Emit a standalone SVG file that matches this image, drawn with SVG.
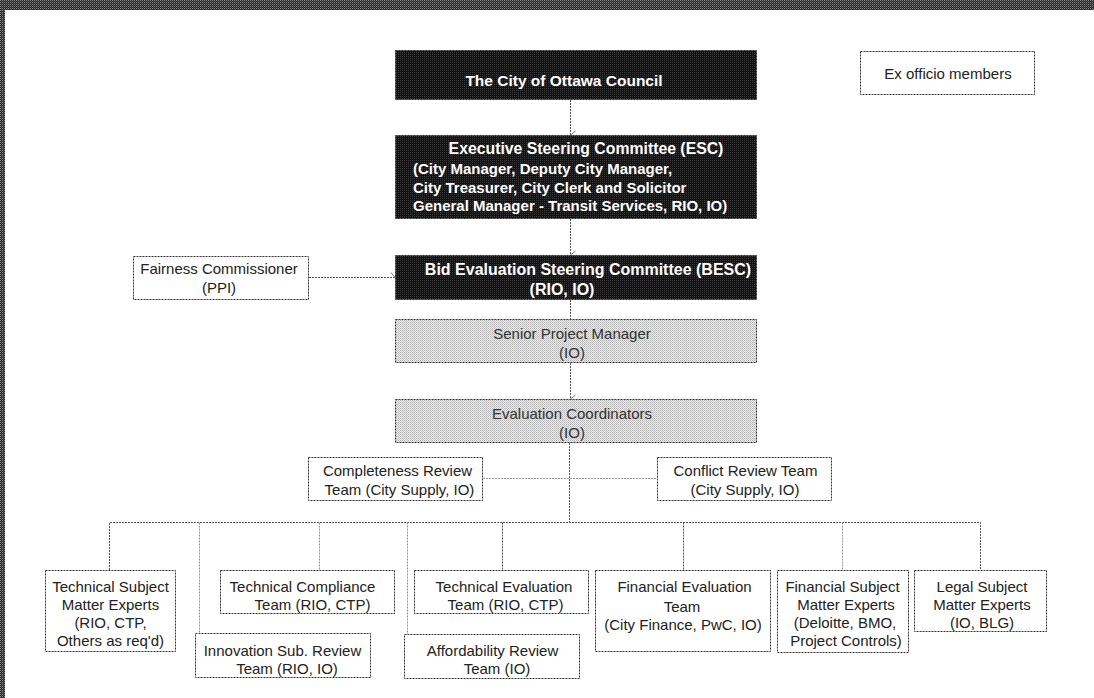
<svg xmlns="http://www.w3.org/2000/svg" width="1094" height="698" viewBox="0 0 1094 698">
<defs>
<pattern id="edge" width="2" height="2" patternUnits="userSpaceOnUse"><rect width="2" height="2" fill="#262626"/><rect width="1" height="1" fill="#8a8a8a"/><rect x="1" y="1" width="1" height="1" fill="#4a4a4a"/></pattern>
<pattern id="dark" width="2" height="2" patternUnits="userSpaceOnUse"><rect width="2" height="2" fill="#121212"/><rect width="1" height="1" fill="#3a3a3a"/></pattern>
<pattern id="light" width="2" height="2" patternUnits="userSpaceOnUse"><rect width="2" height="2" fill="#eaeaea"/><rect width="1" height="1" fill="#b4b4b4"/><rect x="1" y="1" width="1" height="1" fill="#c8c8c8"/></pattern>
<marker id="arr" markerWidth="10" markerHeight="8" refX="5" refY="7" orient="auto-start-reverse" markerUnits="userSpaceOnUse" viewBox="0 0 10 8">
<polyline points="1,2 5,7 9,2" fill="none" stroke="#777" stroke-width="1"/>
</marker>
</defs>
<style>
.bx{stroke:#333;stroke-width:1;stroke-dasharray:2,1}
.w{fill:#fff}
.dk{fill:url(#dark)}
.lt{fill:url(#light)}
.t{font-family:"Liberation Sans",Arial,sans-serif;font-size:15px;fill:#222;text-anchor:middle}
.tg{fill:#333}
.tb{font-family:"Liberation Sans",Arial,sans-serif;font-size:15px;font-weight:bold;fill:#fff}
.c{fill:none;stroke:#555;stroke-width:1;stroke-dasharray:2,1}
.cl{fill:none;stroke:#999;stroke-width:1;stroke-dasharray:2,1}
</style>
<rect width="1094" height="698" fill="#fff"/>
<rect x="0" y="0" width="1094" height="10" fill="url(#edge)"/>
<rect x="0" y="0" width="5" height="698" fill="url(#edge)"/>

<g id="connectors">
<line class="c" x1="570.5" y1="100" x2="570.5" y2="135" marker-end="url(#arr)"/>
<line class="c" x1="570.5" y1="219" x2="570.5" y2="255" marker-end="url(#arr)"/>
<line class="c" x1="309" y1="277.5" x2="395" y2="277.5" marker-end="url(#arr)"/>
<line class="c" x1="570.5" y1="300" x2="570.5" y2="319"/>
<line class="c" x1="570.5" y1="363" x2="570.5" y2="399" marker-end="url(#arr)"/>
<line class="c" x1="569.5" y1="443" x2="569.5" y2="522.5"/>
<line class="cl" x1="483" y1="478.5" x2="657" y2="478.5"/>
<polyline class="c" points="109.5,570 109.5,522.5 980.5,522.5 980.5,570"/>
<line class="cl" x1="199.5" y1="522.5" x2="199.5" y2="633"/>
<line class="cl" x1="319.5" y1="522.5" x2="319.5" y2="570"/>
<line class="cl" x1="407.5" y1="522.5" x2="407.5" y2="634"/>
<line class="c" x1="502.5" y1="522.5" x2="502.5" y2="570"/>
<line class="c" x1="683.5" y1="522.5" x2="683.5" y2="570"/>
<line class="cl" x1="842.5" y1="522.5" x2="842.5" y2="570"/>
</g>

<g id="council">
<rect class="bx dk" x="395.5" y="50.5" width="361" height="49"/>
<text class="tb" x="564" y="85.5" text-anchor="middle" style="font-size:15.5px">The City of Ottawa Council</text>
</g>

<g id="exofficio">
<rect class="bx w" x="860.5" y="51.5" width="174" height="43"/>
<text class="t" x="948" y="78.5">Ex officio members</text>
</g>

<g id="esc">
<rect class="bx dk" x="395.5" y="135.5" width="361" height="83"/>
<text class="tb" x="586" y="153.5" text-anchor="middle" style="font-size:15.8px">Executive Steering Committee (ESC)</text>
<text class="tb" x="413" y="173.5">(City Manager, Deputy City Manager,</text>
<text class="tb" x="413" y="192.5">City Treasurer, City Clerk and Solicitor</text>
<text class="tb" x="413" y="210.5">General Manager - Transit Services, RIO, IO)</text>
</g>

<g id="fairness">
<rect class="bx w" x="133.5" y="256.5" width="175" height="43"/>
<text class="t" x="219" y="274">Fairness Commissioner</text>
<text class="t" x="219" y="293">(PPI)</text>
</g>

<g id="besc">
<rect class="bx dk" x="395.5" y="255.5" width="361" height="44"/>
<text class="tb" x="588" y="275" text-anchor="middle" style="font-size:16px">Bid Evaluation Steering Committee (BESC)</text>
<text class="tb" x="562" y="295" text-anchor="middle" style="font-size:16px">(RIO, IO)</text>
</g>

<g id="spm">
<rect class="bx lt" x="395.5" y="319.5" width="361" height="43"/>
<text class="t tg" x="572" y="338.5">Senior Project Manager</text>
<text class="t tg" x="572" y="358">(IO)</text>
</g>

<g id="evalcoord">
<rect class="bx lt" x="395.5" y="399.5" width="361" height="43"/>
<text class="t tg" x="572" y="418.5">Evaluation Coordinators</text>
<text class="t tg" x="572" y="437.5">(IO)</text>
</g>

<g id="completeness">
<rect class="bx w" x="308.5" y="457.5" width="174" height="43"/>
<text class="t" x="397.5" y="475.5">Completeness Review</text>
<text class="t" x="399.5" y="494.5">Team (City Supply, IO)</text>
</g>

<g id="conflict">
<rect class="bx w" x="657.5" y="457.5" width="174" height="43"/>
<text class="t" x="745.5" y="475.5">Conflict Review Team</text>
<text class="t" x="745" y="494.5">(City Supply, IO)</text>
</g>

<g id="techsme">
<rect class="bx w" x="45.5" y="570.5" width="130" height="81"/>
<text class="t" x="110.5" y="591.5">Technical Subject</text>
<text class="t" x="110.5" y="609.5">Matter Experts</text>
<text class="t" x="110.5" y="627.5">(RIO, CTP,</text>
<text class="t" x="110.5" y="645.5">Others as req'd)</text>
</g>

<g id="techcompliance">
<rect class="bx w" x="220.5" y="570.5" width="174" height="43"/>
<text class="t" x="302.5" y="591.5">Technical Compliance</text>
<text class="t" x="312.5" y="609.5">Team (RIO, CTP)</text>
</g>

<g id="innovation">
<rect class="bx w" x="195.5" y="633.5" width="175" height="44"/>
<text class="t" x="282.5" y="655.5">Innovation Sub. Review</text>
<text class="t" x="287" y="673.5">Team (RIO, IO)</text>
</g>

<g id="techeval">
<rect class="bx w" x="414.5" y="570.5" width="174" height="43"/>
<text class="t" x="504" y="591.5">Technical Evaluation</text>
<text class="t" x="505.5" y="609.5">Team (RIO, CTP)</text>
</g>

<g id="affordability">
<rect class="bx w" x="404.5" y="634.5" width="175" height="44"/>
<text class="t" x="492.5" y="655.5">Affordability Review</text>
<text class="t" x="497" y="673.5">Team (IO)</text>
</g>

<g id="fineval">
<rect class="bx w" x="595.5" y="570.5" width="175" height="81"/>
<text class="t" x="684.5" y="591.5">Financial Evaluation</text>
<text class="t" x="682" y="611.5">Team</text>
<text class="t" x="683" y="629.5">(City Finance, PwC, IO)</text>
</g>

<g id="finsme">
<rect class="bx w" x="777.5" y="570.5" width="131" height="82"/>
<text class="t" x="842.5" y="591.5">Financial Subject</text>
<text class="t" x="846" y="609.5">Matter Experts</text>
<text class="t" x="845" y="627.5">(Deloitte, BMO,</text>
<text class="t" x="846" y="645.5">Project Controls)</text>
</g>

<g id="legal">
<rect class="bx w" x="914.5" y="570.5" width="132" height="61"/>
<text class="t" x="982" y="591.5">Legal Subject</text>
<text class="t" x="982" y="609.5">Matter Experts</text>
<text class="t" x="982" y="627.5">(IO, BLG)</text>
</g>
</svg>
